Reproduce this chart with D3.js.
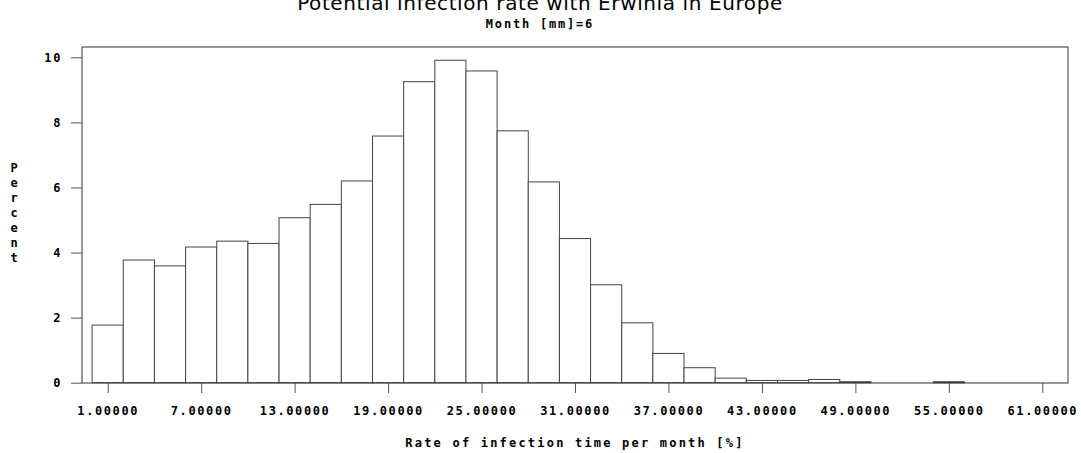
<!DOCTYPE html>
<html>
<head>
<meta charset="utf-8">
<script src="https://cdn.jsdelivr.net/npm/d3@7"></script>
<style>
  body { margin: 0; background: #fff; }
  text { fill: #000; }
  .mono { font-family: "DejaVu Sans Mono", monospace; font-weight: bold; }
</style>
</head>
<body>
<div id="chart"></div>
<script>
// histogram bins (midpoints) and percent per bin
var binMids = [1, 3, 5, 7, 9, 11, 13, 15, 17, 19, 21, 23, 25, 27, 29, 31, 33, 35, 37, 39, 41, 43, 45, 47, 49, 51, 53, 55, 57, 59, 61];
var percents = [1.77, 3.77, 3.59, 4.17, 4.35, 4.28, 5.07, 5.48, 6.20, 7.58, 9.25, 9.91, 9.58, 7.74, 6.17, 4.43, 3.01, 1.84, 0.90, 0.46, 0.14, 0.07, 0.07, 0.10, 0.03, 0, 0, 0.03, 0, 0, 0];
var xTicks = [1, 7, 13, 19, 25, 31, 37, 43, 49, 55, 61];
var yTicks = [0, 2, 4, 6, 8, 10];
var binWidth = 2;

var width = 1081,
    height = 453,
    frame = { left: 82, right: 1068, top: 47, bottom: 383 };

var svg = d3.select('#chart')
    .append('svg')
    .attr('width', width)
    .attr('height', height);

var x = d3.scaleLinear()
    .domain([1, 61])
    .range([107.7, 1042.3]);

var y = d3.scaleLinear()
    .domain([0, 10])
    .range([382.7, 57.3]);

// bars
svg.selectAll('rect.bar')
    .data(binMids.map(function (m, i) { return { mid: m, v: percents[i] }; })
        .filter(function (d) { return d.v > 0; }))
    .enter()
    .append('rect')
    .attr('class', 'bar')
    .attr('x', function (d) { return x(d.mid - binWidth / 2); })
    .attr('width', function (d) { return x(d.mid + binWidth / 2) - x(d.mid - binWidth / 2); })
    .attr('y', function (d) { return y(d.v); })
    .attr('height', function (d) { return y(0) - y(d.v); })
    .attr('fill', '#fff')
    .attr('stroke', '#444')
    .attr('stroke-width', 1);

// frame
svg.append('rect')
    .attr('x', frame.left)
    .attr('y', frame.top)
    .attr('width', frame.right - frame.left)
    .attr('height', frame.bottom - frame.top)
    .attr('fill', 'none')
    .attr('stroke', '#333')
    .attr('stroke-width', 1);

// y axis
var yAxis = d3.axisLeft(y)
    .tickValues(yTicks)
    .tickSize(11)
    .tickPadding(9)
    .tickFormat(d3.format('d'));

var gy = svg.append('g')
    .attr('transform', 'translate(' + frame.left + ',0)')
    .call(yAxis);
gy.select('.domain').remove();
gy.selectAll('line').attr('stroke', '#555');
gy.selectAll('text')
    .attr('class', 'mono')
    .style('font-size', '12px')
    .style('letter-spacing', '1.6px');

// x axis
var xAxis = d3.axisBottom(x)
    .tickValues(xTicks)
    .tickSize(10)
    .tickPadding(13)
    .tickFormat(d3.format('.5f'));

var gx = svg.append('g')
    .attr('transform', 'translate(0,' + frame.bottom + ')')
    .call(xAxis);
gx.select('.domain').remove();
gx.selectAll('line').attr('stroke', '#555');
gx.selectAll('text')
    .attr('class', 'mono')
    .style('font-size', '12px')
    .style('letter-spacing', '1.6px');

// titles
svg.append('text')
    .attr('x', 540)
    .attr('y', 10)
    .attr('text-anchor', 'middle')
    .style('font-family', '"DejaVu Sans", sans-serif')
    .style('font-size', '20px')
    .style('letter-spacing', '0.6px')
    .text('Potential infection rate with Erwinia in Europe');

svg.append('text')
    .attr('class', 'mono')
    .attr('x', 540)
    .attr('y', 28)
    .attr('text-anchor', 'middle')
    .style('font-size', '12px')
    .style('letter-spacing', '1.8px')
    .text('Month [mm]=6');

svg.append('text')
    .attr('class', 'mono')
    .attr('x', (frame.left + frame.right) / 2)
    .attr('y', 447)
    .attr('text-anchor', 'middle')
    .style('font-size', '12px')
    .style('letter-spacing', '2.2px')
    .text('Rate of infection time per month [%]');

// vertical stacked y label
var yLabel = 'Percent'.split('');
svg.append('g')
    .selectAll('text')
    .data(yLabel)
    .enter()
    .append('text')
    .attr('class', 'mono')
    .attr('x', 14)
    .attr('y', function (d, i) { return 172 + i * 15; })
    .attr('text-anchor', 'middle')
    .style('font-size', '12px')
    .text(function (d) { return d; });
</script>
</body>
</html>
